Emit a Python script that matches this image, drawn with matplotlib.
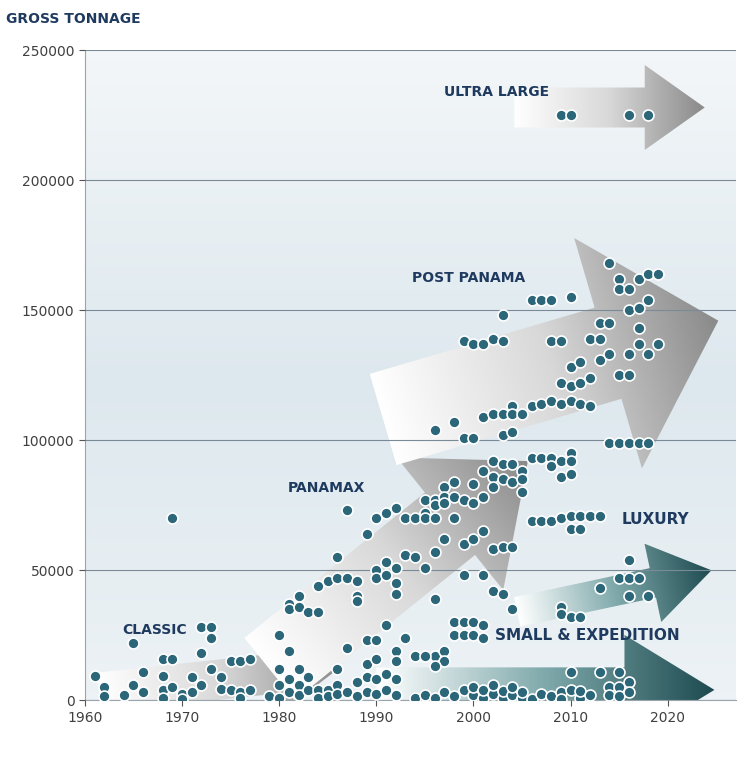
import numpy as np
import matplotlib
matplotlib.use("Agg")
import matplotlib.pyplot as plt
from matplotlib.patches import Polygon
from matplotlib.colors import LinearSegmentedColormap

classic = [(1961,9500),(1962,5000),(1962,1500),(1964,2000),(1965,22000),(1965,6000),(1966,11000),(1966,3000),
 (1968,16000),(1968,9500),(1968,4000),(1968,1000),(1969,16000),(1969,5000),(1970,2500),(1970,500),(1971,9000),
 (1971,3000),(1972,28000),(1972,18000),(1972,6000),(1973,28000),(1973,24000),(1973,12000),(1974,9000),(1974,4500),
 (1975,15000),(1975,4000),(1976,15000),(1976,3000),(1976,1000),(1977,16000),(1977,4000),(1979,1500),(1980,25000),
 (1980,12000),(1980,6000),(1980,1000),(1981,19000),(1981,8000),(1981,3000),(1982,12000),(1982,6000),(1982,2000),
 (1983,9000),(1983,4000),(1984,4000),(1984,1000),(1985,4000),(1985,1500),(1986,12000),(1986,6000),(1986,2500),
 (1987,20000),(1987,3000),(1988,7000),(1988,1500),(1989,23000),(1989,14000),(1989,9000),(1989,3000),(1990,23000),
 (1990,16000),(1990,8000),(1990,2500),(1991,29000),(1991,10000),(1991,4000),(1992,19000),(1992,15000),(1992,8000),
 (1992,2000),(1993,24000),(1969,70000)]
panamax = [(1981,37000),(1981,35000),(1982,40000),(1982,36000),(1983,34000),(1984,34000),(1984,44000),(1985,46000),
 (1986,47000),(1986,55000),(1987,47000),(1987,73000),(1988,46000),(1988,40000),(1988,38000),(1989,64000),(1990,70000),
 (1990,50000),(1990,47000),(1991,72000),(1991,53000),(1991,48000),(1992,74000),(1992,51000),(1992,45000),(1992,41000),
 (1993,70000),(1993,56000),(1994,70000),(1994,55000),(1995,77000),(1995,72000),(1995,70000),(1995,51000),(1996,77000),
 (1996,75000),(1996,70000),(1996,57000),(1996,39000),(1997,82000),(1997,78000),(1997,76000),(1997,62000),(1998,84000),
 (1998,78000),(1998,70000),(1999,77000),(1999,60000),(1999,48000),(2000,83000),(2000,76000),(2000,62000),(2001,88000),
 (2001,78000),(2001,65000),(2001,48000),(2002,92000),(2002,86000),(2002,82000),(2002,58000),(2002,42000),(2003,91000),
 (2003,85000),(2003,59000),(2003,41000),(2004,91000),(2004,84000),(2004,59000),(2005,88000),(2005,85000),(2005,80000),
 (2006,93000),(2007,93000),(2008,93000),(2008,90000),(2009,92000),(2009,86000),(2010,95000),(2010,92000),(2010,87000)]
post_panama = [(1996,104000),(1998,107000),(1999,101000),(1999,138000),(2000,101000),(2000,137000),(2001,137000),
 (2001,109000),(2002,139000),(2002,110000),(2003,138000),(2003,148000),(2003,110000),(2003,102000),(2004,113000),
 (2004,110000),(2004,103000),(2005,110000),(2006,113000),(2006,154000),(2007,154000),(2007,114000),(2008,154000),
 (2008,138000),(2008,115000),(2009,138000),(2009,114000),(2009,122000),(2010,155000),(2010,128000),(2010,121000),
 (2010,115000),(2011,130000),(2011,122000),(2011,114000),(2012,139000),(2012,124000),(2012,113000),(2013,145000),
 (2013,139000),(2013,131000),(2014,168000),(2014,145000),(2014,133000),(2015,162000),(2015,158000),(2015,125000),
 (2016,158000),(2016,150000),(2016,133000),(2016,125000),(2017,162000),(2017,151000),(2017,143000),(2017,137000),
 (2018,164000),(2018,154000),(2018,133000),(2019,164000),(2019,137000),(2014,99000),(2015,99000),(2016,99000),
 (2017,99000),(2018,99000)]
ultra_large = [(2009,225000),(2010,225000),(2016,225000),(2018,225000)]
luxury = [(2006,69000),(2007,69000),(2008,69000),(2009,70000),(2010,71000),(2010,66000),(2011,71000),(2011,66000),
 (2012,71000),(2013,71000),(2009,36000),(2009,33000),(2010,32000),(2011,32000),(2015,47000),(2016,54000),(2016,47000),
 (2016,40000),(2017,47000),(2018,40000),(2013,43000),(2004,35000)]
small = [(1998,30000),(1998,25000),(1999,30000),(1999,25000),(2000,30000),(2000,25000),(2001,29000),(2001,24000),
 (1996,17000),(1997,19000),(1997,15000),(1996,13000),(1994,17000),(1995,17000),(1994,1000),(1995,2000),(1996,1000),
 (1997,3000),(1998,1500),(1999,4000),(2000,2000),(2000,5000),(2001,1000),(2001,4000),(2002,2500),(2002,6000),
 (2003,1000),(2003,3500),(2004,2000),(2004,5000),(2005,1000),(2005,3000),(2006,500),(2007,2500),(2008,1500),
 (2009,3000),(2009,500),(2010,4000),(2010,11000),(2011,1000),(2011,3500),(2012,2000),(2013,11000),(2014,5000),
 (2014,2000),(2015,11000),(2015,5000),(2015,1500),(2016,7000),(2016,3000)]

labels = ["ULTRA LARGE", "POST PANAMA", "PANAMAX", "CLASSIC", "LUXURY", "SMALL & EXPEDITION"]
yticks = [0, 50000, 100000, 150000, 200000, 250000]
xticks = [1960, 1970, 1980, 1990, 2000, 2010, 2020]

fig = plt.figure(figsize=(7.38, 7.62), dpi=100)
ax = fig.add_axes([0.115, 0.081, 0.882, 0.853])
ax.set_xlim(1960, 2027)
ax.set_ylim(0, 250000)

bg = np.linspace(0, 1, 256).reshape(-1, 1)
bgcmap = LinearSegmentedColormap.from_list("bg", ["#f4f7f9", "#dde8ee", "#eef3f6"])
ax.imshow(bg, extent=[1960, 2027, -10000, 255000], aspect="auto", cmap=bgcmap, origin="upper", zorder=0)

K = 3740.0
def arrow(x0, y0, x1, y1, sw, hw, hl, cols):
    p0 = np.array([x0, y0 / K]); p1 = np.array([x1, y1 / K])
    d = p1 - p0; L = np.linalg.norm(d); u = d / L; n = np.array([-u[1], u[0]])
    sw, hw, hl = sw / 9.72, hw / 9.72, hl / 9.72
    b = p1 - u * hl
    pts = [p0 + n * sw / 2, b + n * sw / 2, b + n * hw / 2, p1, b - n * hw / 2, b - n * sw / 2, p0 - n * sw / 2]
    pts = np.array([[p[0], p[1] * K] for p in pts])
    poly = Polygon(pts, closed=True, facecolor="none", edgecolor="none", transform=ax.transData)
    ax.add_patch(poly)
    xmin, xmax = pts[:, 0].min(), pts[:, 0].max()
    ymin, ymax = pts[:, 1].min(), pts[:, 1].max()
    gx = np.linspace(xmin, xmax, 200); gy = np.linspace(ymin / K, ymax / K, 200)
    GX, GY = np.meshgrid(gx, gy)
    t = ((GX - p0[0]) * u[0] + (GY - p0[1]) * u[1]) / L
    cmap = LinearSegmentedColormap.from_list("a", cols)
    im = ax.imshow(np.clip(t, 0, 1), extent=[xmin, xmax, ymin, ymax], origin="lower", aspect="auto",
                   cmap=cmap, vmin=0, vmax=1, zorder=1)
    im.set_clip_path(poly)

gray = ["#ffffff", "#d8d8d8", "#8a8a8a"]
teal = ["#ffffff", "#7fa9ab", "#1d4b50"]
arrow(1961.5, 3000, 1986.4, 13000, 40, 85, 70, gray)
arrow(1979, 12000, 2005.6, 92000, 80, 170, 100, gray)
arrow(1990.7, 108000, 2025.2, 146000, 95, 240, 115, gray)
arrow(2004.2, 228000, 2023.8, 228000, 40, 85, 60, gray)
arrow(2004.5, 34000, 2024.5, 50000, 30, 80, 60, teal)
arrow(1990, 4000, 2024.8, 4000, 45, 110, 90, teal)

ax.set_xticks(xticks); ax.set_yticks(yticks)
ax.set_yticklabels([str(v) for v in yticks])
ax.grid(axis="y", color="#7a8a96", lw=0.8, zorder=0.5)
ax.set_axisbelow(False)
for s in ["top", "right"]:
    ax.spines[s].set_visible(False)
for s in ["left", "bottom"]:
    ax.spines[s].set_color("#9aa4ac")
ax.tick_params(colors="#555555", labelsize=10, length=4)
for tl in ax.get_xticklabels() + ax.get_yticklabels():
    tl.set_color("#404040")

allpts = classic + panamax + post_panama + ultra_large + luxury + small
xs = [p[0] for p in allpts]; ys = [p[1] for p in allpts]
ax.scatter(xs, ys, s=62, c="#2b6679", edgecolors="white", linewidths=1.2, zorder=3)

navy = "#1f3a5f"
pos = [(1997.0, 234000, 10), (1993.7, 162500, 10), (1980.9, 81500, 10), (1963.8, 27000, 10),
       (2015.2, 69500, 11), (2002.2, 25000, 11)]
for lab, (x, y, fs) in zip(labels, pos):
    ax.text(x, y, lab, color=navy, fontsize=fs, fontweight="bold", va="center", ha="left", zorder=4)

fig.text(0.008, 0.975, "GROSS TONNAGE", color=navy, fontsize=10, fontweight="bold", va="center")
fig.savefig("out.png", dpi=100)
